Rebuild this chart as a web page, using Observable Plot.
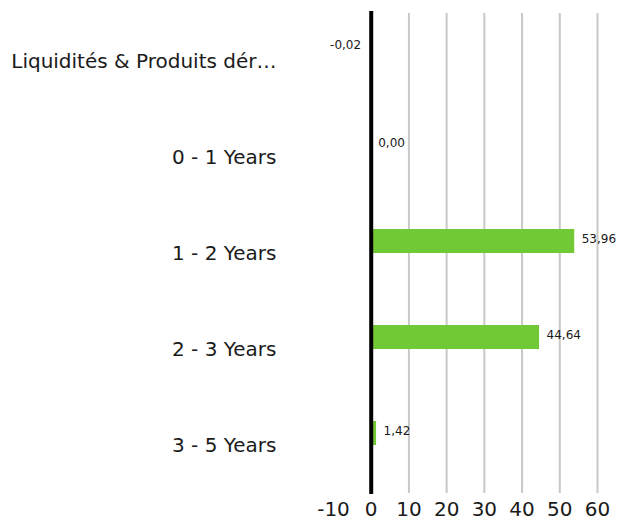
<!DOCTYPE html>
<html>
<head>
<meta charset="utf-8">
<script src="https://cdn.jsdelivr.net/npm/d3@7"></script>
<script src="https://cdn.jsdelivr.net/npm/@observablehq/plot@0.6"></script>
<style>
  body { margin: 0; background: #fff; }
  #chart svg { display: block; }
</style>
</head>
<body>
<div id="chart"></div>
<script>
const categories = ["Liquidités & Produits dér…", "0 - 1 Years", "1 - 2 Years", "2 - 3 Years", "3 - 5 Years"];
const values = [-0.02, 0.00, 53.96, 44.64, 1.42];
const xTicks = [-10, 0, 10, 20, 30, 40, 50, 60];
const gridTicks = [10, 20, 30, 40, 50, 60];

const data = categories.map((c, i) => ({category: c, value: values[i]}));
const fmt = v => v.toFixed(2).replace(".", ",");

const chart = Plot.plot({
  width: 620,
  height: 521,
  marginLeft: 333,
  marginRight: 23,
  marginTop: 13,
  marginBottom: 28,
  style: {fontFamily: "'DejaVu Sans', sans-serif", color: "#1a1a1a", background: "#fff"},
  x: {domain: [-10, 60]},
  y: {domain: categories, padding: 0},
  marks: [
    Plot.ruleX(gridTicks, {stroke: "#c8c8c8", strokeWidth: 2}),
    Plot.barX(data, {y: "category", x: "value", fill: "#72c936", insetTop: 24, insetBottom: 48}),
    Plot.ruleX([0], {stroke: "#000", strokeWidth: 4, insetTop: -2, insetBottom: -1}),
    Plot.text(data.filter(d => d.value >= 0), {
      y: "category", x: "value", text: d => fmt(d.value),
      textAnchor: "start", dx: 7, dy: -14, fontSize: 12, fill: "#1a1a1a"
    }),
    Plot.text(data.filter(d => d.value < 0), {
      y: "category", x: "value", text: d => fmt(d.value),
      textAnchor: "end", dx: -10, dy: -16, fontSize: 12, fill: "#1a1a1a"
    }),
    Plot.axisY({tickSize: 0, tickPadding: 57, fontSize: 20, label: null, textAnchor: "end"}),
    Plot.axisX({ticks: xTicks, tickSize: 0, tickPadding: 8, fontSize: 20, label: null, tickFormat: d => String(d)})
  ]
});
document.getElementById("chart").appendChild(chart);
</script>
</body>
</html>
